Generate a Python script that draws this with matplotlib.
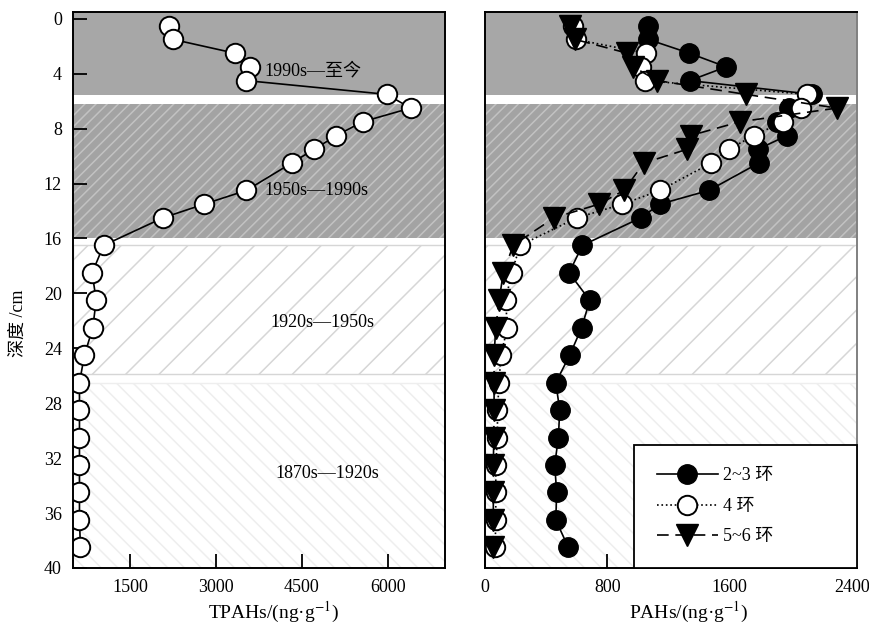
import numpy as np
import matplotlib
matplotlib.use('Agg')
import matplotlib.pyplot as plt

plt.rcParams['font.family'] = ['Liberation Serif', 'Noto Sans CJK SC']
plt.rcParams['mathtext.fontset'] = 'stix'
plt.rcParams['hatch.linewidth'] = 1.1

# depth of each slice (cm)
depth = [0.5, 1.5, 2.5, 3.5, 4.5, 5.5, 6.5, 7.5, 8.5, 9.5, 10.5, 12.5, 13.5,
         14.5, 16.5, 18.5, 20.5, 22.5, 24.5, 26.5, 28.5, 30.5, 32.5, 34.5,
         36.5, 38.5]

# total PAHs, ng/g
tpahs = [2180, 2250, 3325, 3590, 3530, 5980, 6400, 5560, 5105, 4713, 4323,
         3530, 2790, 2070, 1035, 835, 905, 846, 700, 613, 613, 613, 613, 613,
         613, 630]

# PAHs by ring number, ng/g
ring23 = [1067, 1067, 1335, 1576, 1338, 2140, 1985, 1909, 1975, 1783, 1790,
          1463, 1143, 1017, 637, 550, 685, 632, 554, 463, 489, 480, 456, 469,
          463, 545]
ring4 = [576, 593, 1050, 1017, 1046, 2105, 2066, 1948, 1757, 1594, 1479,
         1143, 898, 600, 230, 175, 135, 147, 104, 93, 82, 82, 71, 71, 71, 67]
ring56 = [554, 589, 930, 970, 1126, 1703, 2300, 1665, 1344, 1322, 1039, 908,
          745, 450, 185, 120, 93, 71, 60, 60, 60, 58, 55, 55, 55, 53]

series_labels = ['2~3 环', '4 环', '5~6 环']

# dating periods: label, top, bottom, label position
periods = ['1990s—至今', '1950s—1990s', '1920s—1950s', '1870s—1920s']
period_top = [-0.5, 6.2, 16.5, 26.5]
period_bot = [5.55, 16.0, 25.9, 40]
period_text_y = [3.8, 12.5, 22.1, 33.1]
period_text_x = [4700, 4760, 4860, 4940]


def draw_bands(ax):
    ax.axhspan(period_top[0], period_bot[0], facecolor='#a7a7a7',
               edgecolor='none', lw=0, zorder=0)
    ax.axhspan(period_top[1], period_bot[1], facecolor='#a3a3a3',
               edgecolor='#c2c2c2', hatch='///', lw=0, zorder=0)
    ax.axhspan(period_top[2], period_bot[2], facecolor='white',
               edgecolor='#d6d6d6', hatch='/', lw=1, zorder=0)
    ax.axhspan(period_top[3], period_bot[3], facecolor='white',
               edgecolor='#eeeeee', hatch='\\\\', lw=1, zorder=0)


fig = plt.figure(figsize=(8.69, 6.23), dpi=100)
ax1 = fig.add_axes([0.084, 0.0883, 0.428, 0.8925])
ax2 = fig.add_axes([0.558, 0.0883, 0.428, 0.8925])

# left: total
draw_bands(ax1)
ax1.plot(tpahs, depth, '-', color='k', lw=1.2, marker='o', ms=14,
         mfc='white', mec='k', mew=1.4, zorder=3)
for lab, tx, ty in zip(periods, period_text_x, period_text_y):
    ax1.text(tx, ty, lab, fontsize=13, ha='center', va='center', zorder=4)
ax1.set_xlim(500, 7000)
ax1.set_ylim(40, -0.5)
ax1.set_xticks([1500, 3000, 4500, 6000])
ax1.set_yticks(np.arange(0, 41, 4))
ax1.set_xlabel('TPAHs/(ng·g$^{-1}$)', fontsize=14)
ax1.set_ylabel('深度 /cm', fontsize=13)
ax1.xaxis.set_label_coords(0.54, -0.057)
ax1.yaxis.set_label_coords(-0.125, 0.44)

# right: by ring
draw_bands(ax2)
ax2.plot(ring23, depth, '-', color='k', lw=1.2, marker='o', ms=14,
         mfc='k', mec='k', label=series_labels[0], zorder=3)
ax2.plot(ring4, depth, ':', color='k', lw=1.2, marker='o', ms=14,
         mfc='white', mec='k', mew=1.4, label=series_labels[1], zorder=3)
ax2.plot(ring56, depth, color='k', lw=1.2, ls=(0, (7, 4)), marker='v', ms=16,
         mfc='k', mec='k', label=series_labels[2], zorder=3)
ax2.set_xlim(0, 2430)
ax2.set_ylim(40, -0.5)
ax2.set_xticks([0, 800, 1600, 2400])
ax2.set_xlabel('PAHs/(ng·g$^{-1}$)', fontsize=14)
ax2.xaxis.set_label_coords(0.548, -0.057)
ax2.tick_params(axis='y', left=False, labelleft=False)
ax2.spines['right'].set_color('#808080')

leg = ax2.legend(loc='lower left', bbox_to_anchor=(0.401, 0, 0.599, 0.228),
                 mode='expand', borderaxespad=0, fancybox=False,
                 edgecolor='k', framealpha=1, handlelength=3.4,
                 handletextpad=0.3, labelspacing=0.75, borderpad=1.25,
                 fontsize=13)
leg.get_frame().set_linewidth(1.3)
leg.set_zorder(5)

for ax in (ax1, ax2):
    ax.tick_params(direction='in', length=10, width=1.3, labelsize=13, pad=8)
    for s in ax.spines.values():
        s.set_linewidth(1.4)
        s.set_zorder(4)

plt.savefig('out.png', dpi=100)
